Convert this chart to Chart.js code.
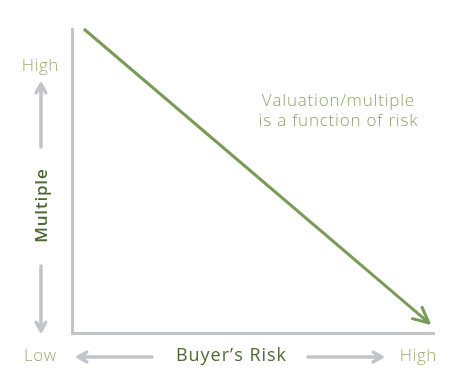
<!DOCTYPE html>
<html>
<head>
<meta charset="utf-8">
<script src="https://cdn.jsdelivr.net/npm/chart.js@4"></script>
<style>
body{margin:0;background:#fff;}
</style>
</head>
<body>
<canvas id="riskChart" width="467" height="380"></canvas>
<script>
// DATA

const riskX = [3.3, 98.6];
const multipleY = [100, 3.3];
const axisLabels = ["Low", "High", "Buyer\u2019s Risk", "Multiple"];
const noteLines = ["Valuation/multiple", "is a function of risk"];

const GREEN = "#7a9b58";
const GRAY = "#c2c4ca";
const LIGHT = "#a1aa72";
const DARK = "#4e6a32";

function arrow(ctx, x1, y1, x2, y2, head, spread){
ctx.beginPath();
ctx.moveTo(x1, y1);
ctx.lineTo(x2, y2);
let a = Math.atan2(y2 - y1, x2 - x1);
ctx.moveTo(x2 - head * Math.cos(a - spread), y2 - head * Math.sin(a - spread));
ctx.lineTo(x2, y2);
ctx.lineTo(x2 - head * Math.cos(a + spread), y2 - head * Math.sin(a + spread));
ctx.stroke();
}

function label(ctx, txt, x, y, font, spacing){
ctx.font = font;
ctx.letterSpacing = spacing + "px";
ctx.fillText(txt, x + spacing / 2, y);
}

// ARROWS AND LABELS

const decor = {
id: "decor",
afterDatasetsDraw(chart){
const ctx = chart.ctx;
const meta = chart.getDatasetMeta(0).data;
const p0 = meta[0], p1 = meta[meta.length - 1];
ctx.save();
ctx.lineCap = "round";
ctx.lineJoin = "round";

// arrow head of the risk line
ctx.strokeStyle = GREEN;
ctx.lineWidth = 3;
let a = Math.atan2(p1.y - p0.y, p1.x - p0.x);
ctx.beginPath();
ctx.moveTo(p1.x - 17 * Math.cos(a - 0.45), p1.y - 17 * Math.sin(a - 0.45));
ctx.lineTo(p1.x, p1.y);
ctx.lineTo(p1.x - 17 * Math.cos(a + 0.45), p1.y - 17 * Math.sin(a + 0.45));
ctx.stroke();

// gray guide arrows
ctx.strokeStyle = GRAY;
ctx.lineWidth = 3.5;
arrow(ctx, 41, 147, 41, 84, 10, 0.5);
arrow(ctx, 41, 266, 41, 331, 10, 0.5);
arrow(ctx, 152, 357, 78, 357, 10, 0.5);
arrow(ctx, 308, 357, 382, 357, 10, 0.5);

// texts
ctx.textAlign = "center";
ctx.textBaseline = "middle";
ctx.fillStyle = LIGHT;
label(ctx, "High", 40, 66, "300 17px 'Open Sans'", 0.6);
label(ctx, axisLabels[0], 40, 356, "300 17px 'Open Sans'", 0.6);
label(ctx, axisLabels[1], 418, 356, "300 17px 'Open Sans'", 0.6);

ctx.fillStyle = DARK;
label(ctx, axisLabels[2], 231, 356, "500 18px 'Open Sans'", 1);
ctx.save();
ctx.translate(42, 206);
ctx.rotate(-Math.PI / 2);
label(ctx, axisLabels[3], 0, 0, "600 17px 'Open Sans'", 0.8);
ctx.restore();

ctx.fillStyle = "#8ea46b";
label(ctx, noteLines[0], 338, 101, "300 17px 'Open Sans'", 0.8);
label(ctx, noteLines[1], 338, 121, "300 17px 'Open Sans'", 0.8);
ctx.restore();
}
};

// CHART

new Chart(
document.getElementById("riskChart"),
{
type:"scatter",
data:{
datasets:[{
data: riskX.map((x, i) => ({x: x, y: multipleY[i]})),
showLine: true,
borderColor: GREEN,
borderWidth: 3,
pointRadius: 0,
clip: false
}]
},
options:{
responsive:false,
animation:false,
layout:{padding:{left:72, top:29, right:33, bottom:47}},
plugins:{legend:{display:false}, tooltip:{enabled:false}},
scales:{
x:{
min:0, max:100,
ticks:{display:false},
grid:{display:false, drawTicks:false},
border:{display:true, color:GRAY, width:3}
},
y:{
min:0, max:100,
ticks:{display:false},
grid:{display:false, drawTicks:false},
border:{display:true, color:GRAY, width:3}
}
}
},
plugins:[decor]
}
);
</script>
</body>
</html>
